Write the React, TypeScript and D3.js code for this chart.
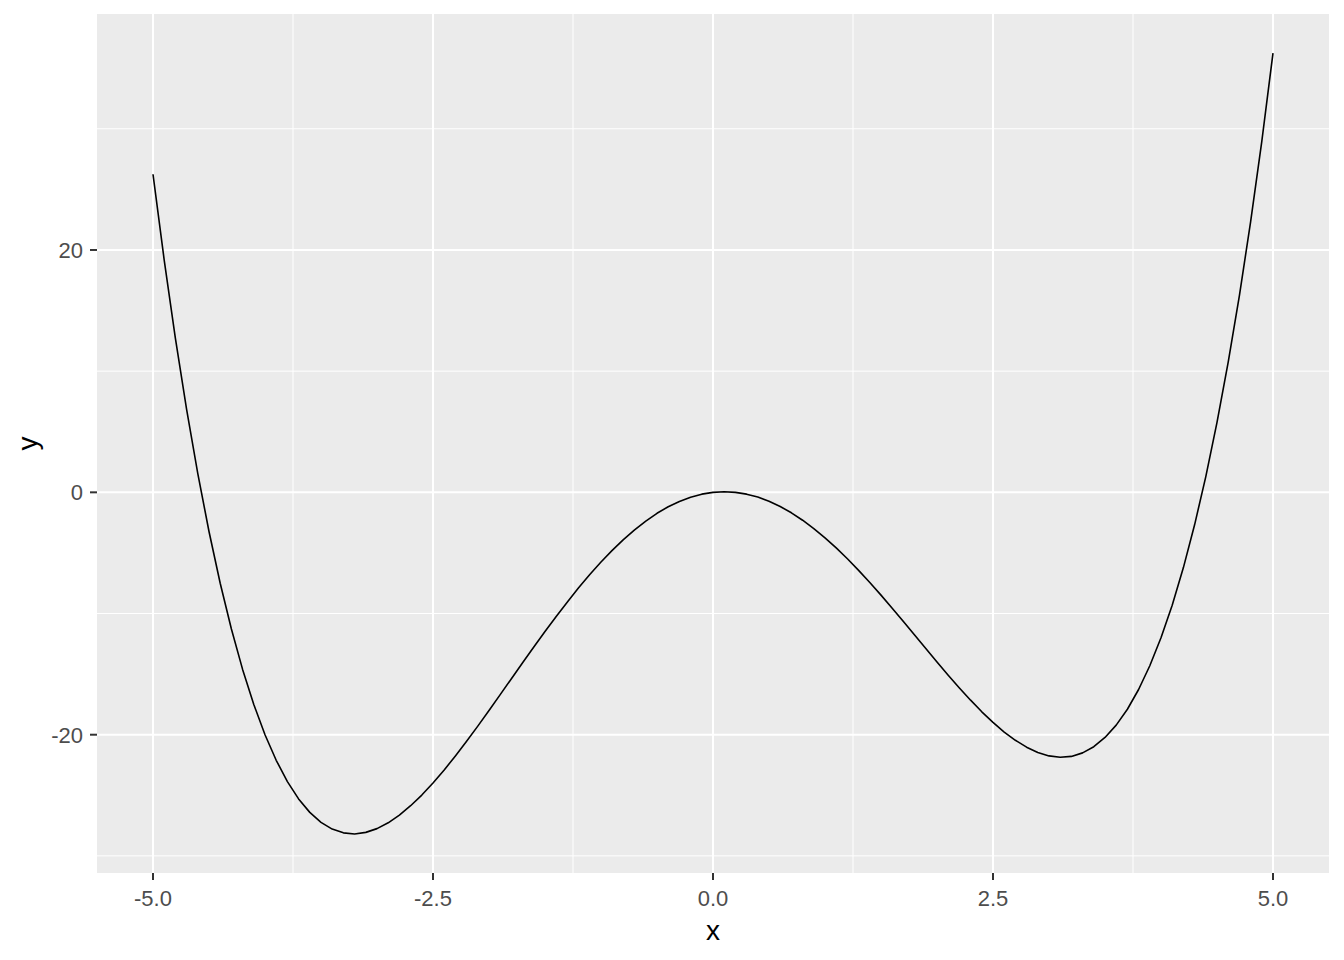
import React from 'react';
import * as d3 from 'd3';

// curve values, x from -5 to 5 in steps of 0.1
const xValues = d3.range(101).map((i) => Math.round((-5 + i * 0.1) * 10) / 10);
const yValues = [
  26.25, 19.17, 12.71, 6.84, 1.54, -3.23, -7.5, -11.28, -14.61, -17.51,
  -20.0, -22.11, -23.87, -25.3, -26.41, -27.23, -27.79, -28.1, -28.19, -28.06,
  -27.75, -27.27, -26.63, -25.86, -24.98, -23.98, -22.91, -21.75, -20.54, -19.29,
  -18.0, -16.69, -15.38, -14.06, -12.76, -11.48, -10.24, -9.04, -7.88, -6.78,
  -5.75, -4.79, -3.9, -3.09, -2.37, -1.73, -1.19, -0.75, -0.4, -0.15,
  0,
  0.05, 0.0, -0.15, -0.39, -0.73, -1.17, -1.69, -2.3, -2.99, -3.75,
  -4.58, -5.48, -6.44, -7.44, -8.48, -9.56, -10.66, -11.78, -12.89, -14.0,
  -15.09, -16.14, -17.15, -18.11, -18.98, -19.78, -20.46, -21.03, -21.47, -21.75,
  -21.86, -21.79, -21.5, -20.99, -20.23, -19.21, -17.9, -16.27, -14.31, -12.0,
  -9.31, -6.21, -2.68, 1.3, 5.77, 10.74, 16.24, 22.31, 28.97, 36.25,
];

const xTicks = [-5, -2.5, 0, 2.5, 5];
const xMinor = [-3.75, -1.25, 1.25, 3.75];
const yTicks = [-20, 0, 20];
const yMinor = [-30, -10, 10, 30];

const W = 1344;
const H = 960;
const panel = { left: 97, top: 14, right: 1329, bottom: 873 };

const App = () => {
  const xExt = d3.extent(xValues) as [number, number];
  const yExt = d3.extent(yValues) as [number, number];
  const xPad = (xExt[1] - xExt[0]) * 0.05;
  const yPad = (yExt[1] - yExt[0]) * 0.05;

  const x = d3.scaleLinear().domain([xExt[0] - xPad, xExt[1] + xPad]).range([panel.left, panel.right]);
  const y = d3.scaleLinear().domain([yExt[0] - yPad, yExt[1] + yPad]).range([panel.bottom, panel.top]);

  const line = d3
    .line<number>()
    .x((d, i) => x(xValues[i]))
    .y((d) => y(d));

  const font = '"Liberation Sans", Arial, sans-serif';

  return (
    <svg width={W} height={H} style={{ position: 'absolute', left: 0, top: 0 }}>
      <rect x={0} y={0} width={W} height={H} fill="#ffffff" />
      <rect
        x={panel.left}
        y={panel.top}
        width={panel.right - panel.left}
        height={panel.bottom - panel.top}
        fill="#EBEBEB"
      />
      {/* minor grid */}
      {xMinor.map((v) => (
        <line key={'xm' + v} x1={x(v)} x2={x(v)} y1={panel.top} y2={panel.bottom} stroke="#fff" strokeWidth={1} />
      ))}
      {yMinor.map((v) => (
        <line key={'ym' + v} x1={panel.left} x2={panel.right} y1={y(v)} y2={y(v)} stroke="#fff" strokeWidth={1} />
      ))}
      {/* major grid */}
      {xTicks.map((v) => (
        <line key={'xg' + v} x1={x(v)} x2={x(v)} y1={panel.top} y2={panel.bottom} stroke="#fff" strokeWidth={2} />
      ))}
      {yTicks.map((v) => (
        <line key={'yg' + v} x1={panel.left} x2={panel.right} y1={y(v)} y2={y(v)} stroke="#fff" strokeWidth={2} />
      ))}

      <path d={line(yValues) || ''} fill="none" stroke="#000" strokeWidth={1.6} strokeLinejoin="round" />

      {/* x axis */}
      {xTicks.map((v) => (
        <g key={'xt' + v}>
          <line x1={x(v)} x2={x(v)} y1={panel.bottom} y2={panel.bottom + 7} stroke="#333" strokeWidth={2} />
          <text x={x(v)} y={906} textAnchor="middle" fontFamily={font} fontSize={22} fill="#4D4D4D">
            {v.toFixed(1)}
          </text>
        </g>
      ))}
      {/* y axis */}
      {yTicks.map((v) => (
        <g key={'yt' + v}>
          <line x1={panel.left - 7} x2={panel.left} y1={y(v)} y2={y(v)} stroke="#333" strokeWidth={2} />
          <text
            x={83}
            y={y(v)}
            dy="0.36em"
            textAnchor="end"
            fontFamily={font}
            fontSize={22}
            fill="#4D4D4D"
          >
            {v}
          </text>
        </g>
      ))}

      <text x={(panel.left + panel.right) / 2} y={940} textAnchor="middle" fontFamily={font} fontSize={28} fill="#000">
        x
      </text>
      <text
        transform={`translate(37, ${(panel.top + panel.bottom) / 2}) rotate(-90)`}
        textAnchor="middle"
        fontFamily={font}
        fontSize={28}
        fill="#000"
      >
        y
      </text>
    </svg>
  );
};

export default App;
